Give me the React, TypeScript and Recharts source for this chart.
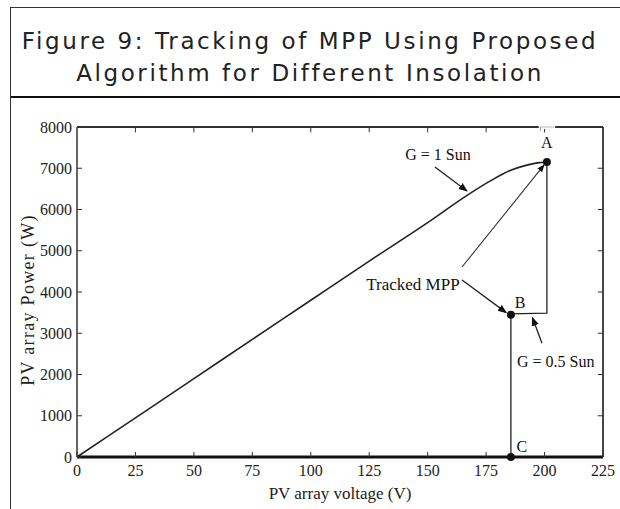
import React from 'react';
import {
  ComposedChart,
  Line,
  Scatter,
  XAxis,
  YAxis,
  ReferenceLine,
  ReferenceDot,
} from 'recharts';

// G = 1 Sun P-V curve (voltage V, power W)
const curveOneSun = [
  { v: 0, p: 0 },
  { v: 25, p: 950 },
  { v: 50, p: 1900 },
  { v: 75, p: 2850 },
  { v: 100, p: 3800 },
  { v: 125, p: 4750 },
  { v: 150, p: 5680 },
  { v: 167, p: 6350 },
  { v: 177, p: 6700 },
  { v: 185, p: 6940 },
  { v: 192, p: 7070 },
  { v: 197, p: 7130 },
  { v: 201, p: 7150 },
];

// tracking path A -> drop to 0.5 Sun -> B -> C
const trackingPath = [
  { v: 201, p: 7150 },
  { v: 201, p: 3490 },
  { v: 185.6, p: 3470 },
  { v: 185.6, p: 3450 },
  { v: 185.6, p: 0 },
];

const markedPoints = [
  { v: 201, p: 7150, name: 'A' },
  { v: 185.6, p: 3450, name: 'B' },
  { v: 185.6, p: 0, name: 'C' },
];

const xTicks = [0, 25, 50, 75, 100, 125, 150, 175, 200, 225];
const yTicks = [0, 1000, 2000, 3000, 4000, 5000, 6000, 7000, 8000];

const X_MAX = 225;
const Y_MAX = 8000;

const serif = '"Liberation Serif", "Times New Roman", serif';
const tickStyle = { fontFamily: serif, fontSize: 16, fill: '#222' };

function Note({ viewBox, text, anchor = 'middle', size = 16 }: any) {
  const { x, y } = viewBox;
  return (
    <text x={x} y={y} dy={5} textAnchor={anchor} fontFamily={serif} fontSize={size} fill="#111">
      {text}
    </text>
  );
}

function YLabel({ viewBox }: any) {
  const cx = 28 - 17 + viewBox.x;
  const cy = viewBox.y + viewBox.height / 2 + 8;
  return (
    <text
      x={cx}
      y={cy}
      transform={`rotate(-90 ${cx} ${cy})`}
      textAnchor="middle"
      dominantBaseline="central"
      fontFamily={serif}
      fontSize={18}
      letterSpacing={1.3}
      fill="#222"
    >
      PV array Power (W)
    </text>
  );
}

export default function App() {
  return (
    <div style={{ position: 'absolute', left: 0, top: 0, width: 620, height: 509, background: '#fff' }}>
      <svg width={0} height={0} style={{ position: 'absolute' }}>
        <defs>
          <marker id="arrowHead" viewBox="0 0 10 10" refX="9" refY="5" markerWidth="7" markerHeight="7" orient="auto">
            <path d="M0,1 L10,5 L0,9 z" fill="#111" />
          </marker>
        </defs>
      </svg>

      {/* title frame */}
      <div
        style={{
          position: 'absolute',
          left: 10,
          top: 7,
          width: 620,
          height: 88,
          borderTop: '1px solid #333',
          borderLeft: '1px solid #333',
          borderBottom: '2px solid #111',
        }}
      />
      <div style={{ position: 'absolute', left: 10, top: 96, width: 1, height: 413, background: '#333' }} />
      <div
        style={{
          position: 'absolute',
          left: 10,
          top: 25,
          width: 600,
          textAlign: 'center',
          fontFamily: '"DejaVu Sans", Verdana, sans-serif',
          fontSize: 23,
          letterSpacing: 2.6,
          lineHeight: '32px',
          color: '#222',
        }}
      >
        Figure 9: Tracking of MPP Using Proposed
        <br />
        Algorithm for Different Insolation
      </div>

      <div style={{ position: 'absolute', left: 0, top: 97 }}>
        <ComposedChart width={620} height={412} margin={{ top: 30, right: 17, bottom: 12, left: 17 }}>
          <XAxis
            dataKey="v"
            type="number"
            domain={[0, X_MAX]}
            ticks={xTicks}
            height={40}
            tickSize={-5}
            tickMargin={13}
            tick={tickStyle}
            axisLine={{ stroke: '#111', strokeWidth: 3 }}
            tickLine={{ stroke: '#333' }}
            label={{ value: 'PV array voltage (V)', position: 'insideBottom', offset: -2, style: { fontFamily: serif, fontSize: 17, fill: '#222' } }}
          />
          <YAxis
            dataKey="p"
            type="number"
            domain={[0, Y_MAX]}
            ticks={yTicks}
            width={60}
            tickSize={-5}
            tickMargin={10}
            tick={tickStyle}
            axisLine={{ stroke: '#333', strokeWidth: 1.5 }}
            tickLine={{ stroke: '#333' }}
            label={{ content: (p: any) => <YLabel {...p} /> }}
          />

          {/* box: top and right borders with inward ticks */}
          <ReferenceLine segment={[{ x: 0, y: Y_MAX }, { x: X_MAX, y: Y_MAX }]} stroke="#333" strokeWidth={1.8} ifOverflow="visible" />
          <ReferenceLine segment={[{ x: X_MAX, y: 0 }, { x: X_MAX, y: Y_MAX }]} stroke="#333" strokeWidth={1.8} ifOverflow="visible" />
          {xTicks.slice(1, -1).map((t) => (
            <ReferenceLine key={`tx${t}`} segment={[{ x: t, y: Y_MAX }, { x: t, y: Y_MAX - 130 }]} stroke="#333" ifOverflow="visible" />
          ))}
          {yTicks.slice(1, -1).map((t) => (
            <ReferenceLine key={`ty${t}`} segment={[{ x: X_MAX, y: t }, { x: X_MAX - 2.2, y: t }]} stroke="#333" ifOverflow="visible" />
          ))}

          {/* break in the top border above A */}
          <ReferenceLine segment={[{ x: 197.5, y: Y_MAX }, { x: 204.5, y: Y_MAX }]} stroke="#fff" strokeWidth={4} ifOverflow="visible" />
          <ReferenceLine segment={[{ x: 198, y: Y_MAX }, { x: 204, y: Y_MAX }]} stroke="#bbb" strokeWidth={1} ifOverflow="visible" />
          <ReferenceLine segment={[{ x: 198.2, y: Y_MAX }, { x: 198.2, y: Y_MAX - 100 }]} stroke="#999" ifOverflow="visible" />

          <Line data={curveOneSun} dataKey="p" type="monotone" stroke="#222" strokeWidth={1.6} dot={false} isAnimationActive={false} />
          <Line data={trackingPath} dataKey="p" type="linear" stroke="#222" strokeWidth={1.3} dot={false} isAnimationActive={false} />
          <Scatter data={markedPoints} dataKey="p" fill="#111" isAnimationActive={false} shape={(props: any) => <circle cx={props.cx} cy={props.cy} r={4} fill="#111" />} />

          {/* arrows */}
          <ReferenceLine segment={[{ x: 153.1, y: 7030 }, { x: 166.8, y: 6450 }]} stroke="#222" strokeWidth={1.3} markerEnd="url(#arrowHead)" />
          <ReferenceLine segment={[{ x: 164.7, y: 4606 }, { x: 199.8, y: 7080 }]} stroke="#333" strokeWidth={1.1} markerEnd="url(#arrowHead)" />
          <ReferenceLine segment={[{ x: 164.7, y: 4290 }, { x: 183.6, y: 3500 }]} stroke="#222" strokeWidth={1.3} markerEnd="url(#arrowHead)" />
          <ReferenceLine segment={[{ x: 198.9, y: 2760 }, { x: 194.8, y: 3380 }]} stroke="#222" strokeWidth={1.3} markerEnd="url(#arrowHead)" />

          {/* labels */}
          <ReferenceDot x={154.4} y={7320} r={0} label={(p: any) => <Note {...p} text="G = 1 Sun" />} />
          <ReferenceDot x={143.7} y={4170} r={0} label={(p: any) => <Note {...p} text="Tracked MPP" size={17} />} />
          <ReferenceDot x={188.2} y={2300} r={0} label={(p: any) => <Note {...p} text="G = 0.5 Sun" anchor="start" />} />
          <ReferenceDot x={201} y={7610} r={0} label={(p: any) => <Note {...p} text="A" />} />
          <ReferenceDot x={189.5} y={3730} r={0} label={(p: any) => <Note {...p} text="B" />} />
          <ReferenceDot x={190.3} y={240} r={0} label={(p: any) => <Note {...p} text="C" />} />
        </ComposedChart>
      </div>
    </div>
  );
}
